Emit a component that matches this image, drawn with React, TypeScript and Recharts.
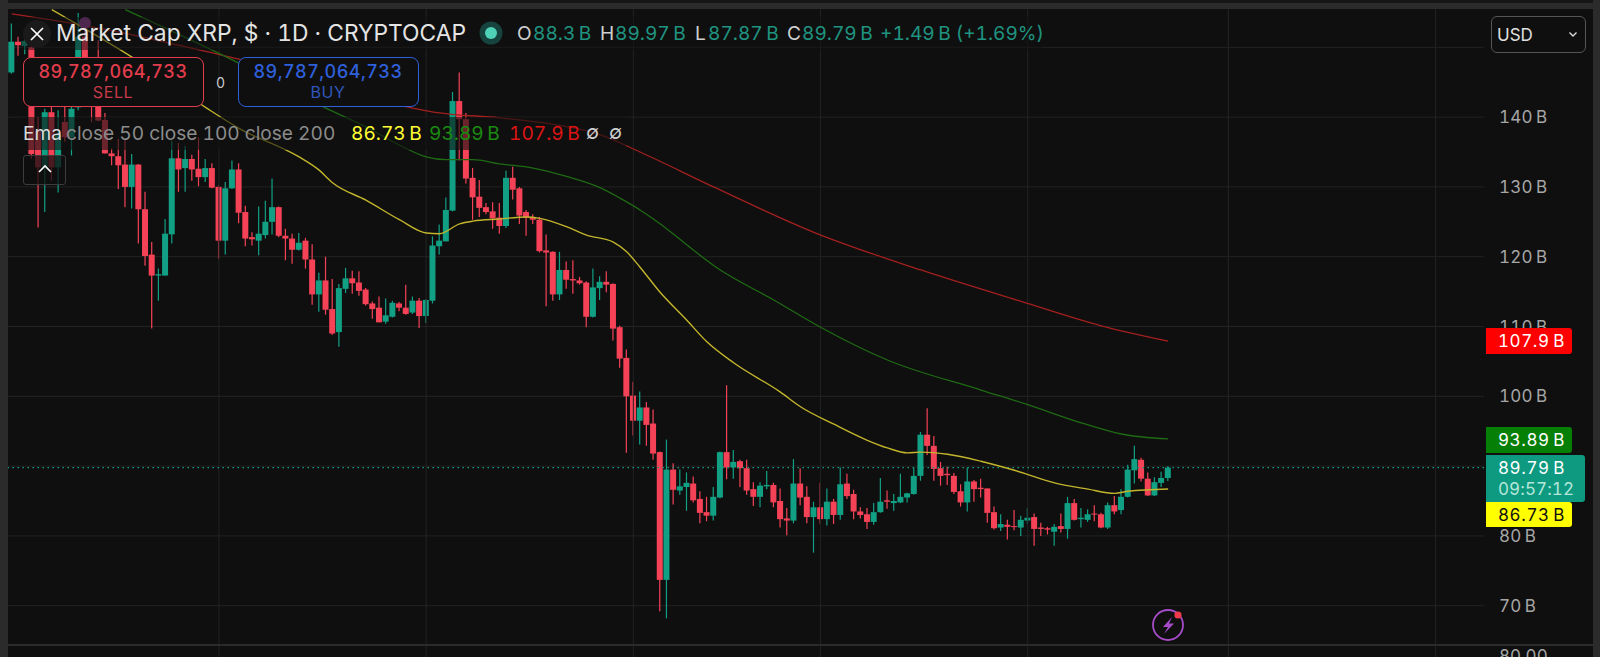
import React from "react";
import { ComposedChart, Bar, Line, XAxis, YAxis, CartesianGrid, ReferenceLine } from "recharts";

// [open, high, low, close] in billions of dollars, one per trading day
const candlesSegmentA: number[][] = [
  [146.4,153.4,146.2,150.8],[150.8,151.5,148.8,150.3],[150.2,151.8,149,150.9],[150,151,134,134.7],[138,140,124.2,132.8],
  [132.8,141.2,126.4,140.7],[140.7,141.5,130.9,132.8],[132.8,141,129.2,137.5],[139.3,141.5,136.5,137.1],[137.1,141.5,134.5,141.2],
  [141.4,154.9,141,151.5],[151.5,153.5,144,144.5],[145,147,139.3,141.5],[143,151,139.4,139.5],[139.6,140.6,134.8,134.8],
  [134.8,135.5,133.1,134.4],[134.4,136.9,129.7,133.1],[133.2,136.9,127.1,130],[130,134.7,126.9,133.2],[133.2,133.3,121.9,126.8],
  [126.8,129.3,118.7,120.1],[120.3,122.1,109.7,117.3],[117.3,118.3,113.7,117.5],[117.3,125.4,117.3,123.3],[123.2,136.6,121.9,134.1],
  [134.1,136.3,129.3,132.5],[132.7,135.9,129.3,134],[134,134.6,130.9,132.5],[132.6,137.1,130.1,131.4],[131.4,134,130.7,132.7],
  [132.7,133.4,129.8,129.9],[130,130.2,119.7,122.3],[122.3,130.7,120.3,129.8],[129.8,133.8,129.7,132.5],[132.5,133.4,124.8,126.3],
  [126.4,127.3,121.5,122.6],[122.8,123.5,121.6,122.5],[122.3,127.2,120.2,123.3],[123.1,128,122.6,125],[125,131.2,123.2,127.1],
  [127.1,127.2,122.8,123],[123,124,119.5,122.6],[122.6,123.3,119,121],[121,123.4,120.9,122],
];
const candlesSegmentB: number[][] = [
  [122.3,122.7,118.3,119.6],[119.6,121.8,113.1,114.6],[114.6,117.7,112.1,116.6],[116.6,120,111.7,112.4],[112.5,116.8,108.8,109],
  [109.2,116.1,107.1,115.5],[115.4,118.4,114.8,116.9],[116.9,118,114.7,116.2],[116.3,117.9,114.4,115.1],[115.3,115.5,113,113.2],
  [113.3,113.6,111.1,112.5],[112.7,114.3,110.6,110.6],[110.7,114,110.4,111.6],[111.4,113.7,111.3,113.4],[113.3,113.5,112.2,112.7],
  [112.7,116,111.7,111.8],[112,114.3,111.8,113.7],[113.7,114.1,109.8,111.5],[111.5,113.9,110.5,113.8],[113.7,122.9,113.3,121.6],
  [121.5,124.6,120.3,122.3],[122.2,128.5,122.2,126.7],[126.6,143.6,126.5,142.3],[142.3,146.4,133.8,139.7],[139.7,140.6,130.5,131.2],
  [131.3,132.7,125.3,128.5],[128.6,131,125.7,127],[127.1,127.7,126.1,126.4],[126.5,127.8,124,125.5],[125.6,127.7,123.3,124.4],
  [124.4,132.3,124.1,131.3],[131.3,132.9,128.2,129.6],[129.8,130,124.7,125.9],[126.4,126.7,123,125.6],[125.7,126.1,124.7,125.3],
  [125.3,125.7,120.6,120.8],[120.9,123.2,112.9,120.6],[120.7,120.8,113.7,114.6],[114.6,120.7,113.8,118.1],[118.1,119.3,115.4,116.7],
  [116.8,119.5,114.7,116.6],[116.6,117.1,116,116.2],[116.3,116.5,109.9,111.4],[111.4,118.3,111.3,115.6],[115.5,117.2,113.8,116.4],
  [116.4,117.9,114.9,116],[116.1,116.2,108,109.7],
];
const candlesSegmentC: number[][] = [
  [109.9,110.1,104.1,105.4],[105.5,106.7,91.9,100],[100.1,102.1,94.4,96.5],[96.5,100.7,93.1,98.4],[98.4,99.2,92.9,95.9],
  [96.1,98.1,90.9,91.8],[92,92.1,69.2,73.7],[73.7,93.8,68.2,89.5],[89.5,90.4,84.5,86.6],[86.5,89.5,85.9,87.1],
  [87,89.1,83.6,87.6],[87.5,88.5,84.8,85.1],[85.3,86.4,81.8,83.3],[83.4,85.6,82.1,82.9],[82.9,87,82.2,85.6],
  [85.5,92.1,85.4,92],[92,101.6,88.1,89.8],[89.8,92.3,88.2,90.6],[90.7,90.9,87,89.7],[89.7,90.9,85.9,86.5],
  [86.7,87.7,84.3,85.6],[85.6,87.7,84.1,87.2],[87.1,89.3,86.7,87.3],[87.3,87.6,84.1,84.8],[85,86.8,81.2,82.4],
  [82.5,84,80.1,82.2],[82.2,91,81.8,87.5],[87.5,89.7,84.4,85.5],[85.6,87.1,81.8,82.7],[82.7,84.9,77.6,84.1],
  [84.1,87.6,81.7,82.4],[82.4,86.8,81.5,84.9],[84.9,85.3,81.7,83],[83,89.8,82.3,87.4],[87.5,88.9,85.3,85.7],
  [86,86.6,82.4,83.5],[83.5,84.1,82.5,83],[83.1,84,81,82],[82,84.7,81.6,83.4],[83.4,88.3,83.3,84.9],
  [85.1,86.5,83.9,84.9],
];
const candlesSegmentD: number[][] = [
  [84.7,86,83.6,85],[84.8,88.9,84.7,85.6],[85.5,86.2,84.8,86.1],[86,89.8,85.9,88.6],[88.6,94.9,87.9,94.5],
  [94.5,98.3,91.6,92.9],[92.9,94.3,87.9,89.6],[89.7,90.6,87.2,88.6],[88.9,89.9,87.3,88.7],[88.6,89,86,86.3],
  [86.4,87.4,84.2,84.8],[84.8,89.8,83.5,87.8],[87.8,88,84.9,86.7],[86.9,88.2,85.5,86.7],[86.8,86.8,81.9,83.3],
  [83.4,84.2,80.9,81.1],[81.2,83.1,80.7,81.7],[81.6,82.3,79.5,81.3],[81.4,83.7,80.8,81.3],[81.2,82.9,80,82.3],
  [82.2,84,81.7,82.6],[82.7,83.2,78.6,81],[81.2,81.9,80,81],[81.1,81.3,80.2,80.9],[80.6,81.7,78.6,81.3],
  [81.4,83.2,80.5,81],[81,85.6,79.6,84.7],[84.7,85.3,82.2,82.3],[82.4,84,81.2,82.6],[82.3,83.8,82,83.1],
  [83.2,84.4,82.1,83.1],[83.1,83.3,81.1,81.2],[81.2,84.8,81,84.4],[84.4,85.7,83.1,83.5],[83.7,86.7,83.1,85.6],
  [85.6,90.2,85.5,89.5],[89.4,92.9,87.5,91],[90.9,91.2,87.8,88.2],[88.2,89.1,85.7,85.8],[85.8,88.4,85.7,87.7],
  [87.6,89.2,87,88.3],[88.3,89.97,87.87,89.79],
];

// [day index, value] readings of each moving average
const ema50Readings: number[][] = [
  [6,155.4],[10,153.2],[18,148.6],[29,141.4],[34,138.4],[43,134.3],[46,132.4],[48,130.6],[53,128.1],[58,125.3],[62,123.4],[64,123.3],
  [67,124.7],[69,125.1],[73,125.4],[77,125.7],[79,125.5],[83,124.3],[86,123.1],[90,122.1],[92,120.7],[94,118.5],[97,114.9],[101,110.9],
  [104,107.8],[108,104.8],[115,100.6],[118,98.5],[123,96],[128,93.7],[131,92.6],[134,91.9],[136,92],[140,91.7],[145,90.7],[150,89.4],
  [156,87.6],[161,86.7],[165,86.1],[167,86.4],[173,86.73],
];
const ema100Readings: number[][] = [
  [17,155.4],[33,148.2],[47,141.3],[53,138.6],[58,136],[62,134.3],[65,133.9],[69,133.9],[73,133.3],[78,132.7],[83,131.5],[88,129.9],
  [91,128.4],[94,126.7],[96,125.4],[106,118.1],[114,113.8],[121,109.9],[131,105.2],[145,100.9],[152,98.8],
  [160,96.2],[166,94.6],[173,93.89],
];
const ema200Readings: number[][] = [
  [0,154.8],[8,153.6],[18,151.8],[25,150.3],[34,148.3],[60,141.3],[64,140.6],[73,139.9],[82,138.8],[88,137.5],[94,135],[105,130],
  [120,123.5],[136,118.1],[151,113.6],[163,110.1],[173,107.9],
];

const priceTicks = [70, 80, 90, 100, 110, 120, 130, 140];
const gridPrices = [70, 80, 90, 100, 110, 120, 130, 140, 150];
const monthStartDays = [31, 62, 93, 121, 152, 182, 213];
const lastClose = 89.79;

const UP = "#12a085";
const DOWN = "#f54257";
const BG = "#0f0f0f";
const GRID = "#232323";
const FRAME = "#2b2b2b";
const FONT = "Inter, 'Noto Sans', sans-serif";

const allCandles = [...candlesSegmentA, ...candlesSegmentB, ...candlesSegmentC, ...candlesSegmentD];
const lookup = (list: number[][]) => new Map(list.map(([i, v]) => [i, v]));
const e50 = lookup(ema50Readings);
const e100 = lookup(ema100Readings);
const e200 = lookup(ema200Readings);
const rows = allCandles.map(([open, high, low, close], i) => ({
  i, open, high, low, close,
  range: [low, high],
  ema50: e50.get(i) ?? null,
  ema100: e100.get(i) ?? null,
  ema200: e200.get(i) ?? null,
}));

function Candle(props: any) {
  const { x, y, width, height, payload } = props;
  const { open, high, low, close } = payload;
  const unit = height / (high - low || 1);
  const top = y + (high - Math.max(open, close)) * unit;
  const bodyH = Math.max(Math.abs(open - close) * unit, 1);
  const color = close >= open ? UP : DOWN;
  const cx = x + width / 2;
  return (
    <g>
      <line x1={cx} x2={cx} y1={y} y2={y + height} stroke={color} strokeWidth={1.2} />
      <rect x={x} y={top} width={width} height={bodyH} fill={color} />
    </g>
  );
}

const abs = (style: React.CSSProperties): React.CSSProperties => ({ position: "absolute", whiteSpace: "nowrap", ...style });
const NB = "\u202f";

function Tag({ top, height, width, bg, color, label, sub }: any) {
  return (
    <div style={abs({ left: 1486, top, width, height, background: bg, borderRadius: "0 3px 3px 0" })}>
      <div style={abs({ left: 12, top: 3, color, fontSize: 17, fontFamily: FONT, letterSpacing: 0.6, lineHeight: "20px" })}>{label}</div>
      {sub ? <div style={abs({ left: 12, top: 24, color: "#b5e6da", fontSize: 17, fontFamily: FONT, letterSpacing: 0.1, lineHeight: "20px" })}>{sub}</div> : null}
    </div>
  );
}

function OrderBox({ left, color, subColor, word }: any) {
  return (
    <div style={abs({ left, top: 57, width: 181, height: 50, boxSizing: "border-box", border: `1.5px solid ${color}`, borderRadius: 8, background: BG, textAlign: "center", fontFamily: FONT })}>
      <div style={{ color, fontSize: 18, fontWeight: 500, letterSpacing: 0.45, lineHeight: "22px", marginTop: 3 }}>89,787,064,733</div>
      <div style={{ color: subColor, fontSize: 16, letterSpacing: 0.6, lineHeight: "18px" }}>{word}</div>
    </div>
  );
}

export default function App() {
  const teal = "#1f9480";
  const lab: React.CSSProperties = { fontFamily: FONT, fontSize: 19.1, lineHeight: "24px", top: 21 };
  return (
    <div style={{ position: "fixed", left: 0, top: 0, width: 1600, height: 657, overflow: "hidden", background: BG, fontVariantNumeric: "tabular-nums" }}>
      <ComposedChart width={1600} height={657} data={rows} margin={{ top: 9, right: 0, bottom: 0, left: 8 }}>
        <CartesianGrid stroke={GRID} horizontalValues={gridPrices} vertical={false} />
        <XAxis dataKey="i" type="number" domain={[-0.549, 220.25]} hide />
        <YAxis
          orientation="right"
          width={116}
          domain={[62.65, 155.49]}
          ticks={priceTicks}
          axisLine={false}
          tickLine={false}
          tickMargin={9}
          tick={{ fill: "#a6a6a6", fontSize: 17, fontFamily: FONT, textAnchor: "start", letterSpacing: 0.2 }}
          tickFormatter={(v: number) => `${v}${NB}B`}
        />
        {monthStartDays.map((d) => (
          <ReferenceLine key={d} x={d} stroke={GRID} />
        ))}
        <ReferenceLine y={lastClose} stroke={UP} strokeDasharray="1.5 3.5" strokeWidth={1.2} />
        <Bar dataKey="range" barSize={6} isAnimationActive={false} shape={<Candle />} />
        <Line type="monotone" dataKey="ema200" stroke="#a3201f" strokeWidth={1.3} dot={false} connectNulls isAnimationActive={false} />
        <Line type="monotone" dataKey="ema100" stroke="#1f6a14" strokeWidth={1.3} dot={false} connectNulls isAnimationActive={false} />
        <Line type="monotone" dataKey="ema50" stroke="#c2b52c" strokeWidth={1.4} dot={false} connectNulls isAnimationActive={false} />
      </ComposedChart>

      {/* frame */}
      <div style={abs({ left: 0, top: 0, width: 1600, height: 3, background: "#161616" })} />
      <div style={abs({ left: 0, top: 3, width: 1600, height: 6, background: FRAME })} />
      <div style={abs({ left: 0, top: 0, width: 8, height: 657, background: FRAME })} />
      <div style={abs({ left: 1593, top: 0, width: 7, height: 657, background: FRAME })} />
      <div style={abs({ left: 8, top: 644, width: 1585, height: 1.5, background: FRAME })} />
      <div style={abs({ left: 1499, top: 643, height: 14, overflow: "hidden", width: 70, color: "#a6a6a6", fontFamily: FONT, fontSize: 17 })}>
        <div style={{ marginTop: 2, lineHeight: "22px" }}>80.00</div>
      </div>

      {/* legend */}
      <div style={abs({ left: 85 - 6, top: 23 - 6, width: 12, height: 12, borderRadius: 6, background: "#8a3f8c" })} />
      <div style={abs({ left: 22, top: 17, width: 1020, height: 33, background: "rgba(15,15,15,0.5)" })} />
      <svg style={abs({ left: 22, top: 19 })} width={30} height={30}>
        <circle cx={15} cy={15} r={14} fill="#1a1a1a" />
        <path d="M9 9 L21 21 M21 9 L9 21" stroke="#fff" strokeWidth={1.7} />
      </svg>
      <div style={abs({ left: 56, top: 19, color: "#e4e4e4", fontFamily: FONT, fontSize: 22.8, lineHeight: "28px", letterSpacing: 0 })}>Market Cap XRP, $ · 1D · CRYPTOCAP</div>
      <svg style={abs({ left: 479, top: 21 })} width={24} height={24}>
        <circle cx={12} cy={12} r={11.5} fill="#16433e" />
        <circle cx={12} cy={12} r={6} fill="#4fd1b8" />
      </svg>
      <div style={abs({ ...lab, left: 517, color: "#cfcfcf" })}>O</div>
      <div style={abs({ ...lab, left: 533, color: teal })}>88.3{NB}B</div>
      <div style={abs({ ...lab, left: 600, color: "#cfcfcf" })}>H</div>
      <div style={abs({ ...lab, left: 615, color: teal })}>89.97{NB}B</div>
      <div style={abs({ ...lab, left: 695, color: "#cfcfcf" })}>L</div>
      <div style={abs({ ...lab, left: 708, color: teal })}>87.87{NB}B</div>
      <div style={abs({ ...lab, left: 787, color: "#cfcfcf" })}>C</div>
      <div style={abs({ ...lab, left: 802, color: teal })}>89.79{NB}B</div>
      <div style={abs({ ...lab, left: 880, color: teal })}>+1.49{NB}B (+1.69%)</div>

      <OrderBox left={22.5} color="#e23d4d" subColor="#c63a49" word="SELL" />
      <OrderBox left={237.5} color="#2f60dc" subColor="#2f56bd" word="BUY" />
      <div style={abs({ left: 216, top: 74, color: "#c9c9c9", fontFamily: FONT, fontSize: 14, lineHeight: "18px" })}>0</div>

      <div style={abs({ left: 22, top: 117, width: 604, height: 33, background: "rgba(15,15,15,0.6)" })} />
      <div style={abs({ ...lab, top: 121, left: 23, color: "#dcdcdc" })}>Ema</div>
      <div style={abs({ ...lab, top: 121, left: 66, color: "#8c8c8c" })}>close 50 close 100 close 200</div>
      <div style={abs({ ...lab, top: 121, left: 351, color: "#ffff33" })}>86.73{NB}B</div>
      <div style={abs({ ...lab, top: 121, left: 429, color: "#1a8a10" })}>93.89{NB}B</div>
      <div style={abs({ ...lab, top: 121, left: 509, color: "#dd1414" })}>107.9{NB}B</div>
      <div style={abs({ ...lab, top: 121, left: 586, color: "#cfcfcf", fontSize: 19 })}>∅</div>
      <div style={abs({ ...lab, top: 121, left: 609, color: "#cfcfcf", fontSize: 19 })}>∅</div>

      <div style={abs({ left: 22.7, top: 155, width: 43, height: 30, boxSizing: "border-box", border: "1px solid #3c3c3c", borderRadius: 3, background: "rgba(15,15,15,0.75)" })}>
        <svg width={41} height={28}>
          <path d="M15 16 L21 10 L27 16" fill="none" stroke="#fff" strokeWidth={1.6} />
        </svg>
      </div>

      {/* currency selector */}
      <div style={abs({ left: 1491, top: 16, width: 95, height: 37, boxSizing: "border-box", border: "1px solid #555", borderRadius: 6, background: BG })}>
        <div style={abs({ left: 5, top: 7, color: "#e0e0e0", fontFamily: FONT, fontSize: 17, lineHeight: "22px" })}>USD</div>
        <svg style={abs({ left: 76, top: 14 })} width={10} height={8}>
          <path d="M1.5 1.5 L5 5 L8.5 1.5" fill="none" stroke="#ddd" strokeWidth={1.4} />
        </svg>
      </div>

      {/* lightning badge */}
      <svg style={abs({ left: 1150, top: 607 })} width={36} height={36}>
        <circle cx={18} cy={18} r={15} fill="none" stroke="#a64cc8" strokeWidth={1.8} />
        <path d="M22 10 L13 20 H18 L14 27 L24 16.5 H19 Z" fill="#a64cc8" />
        <circle cx={28} cy={8} r={3.6} fill="#ee3a4a" />
      </svg>

      {/* price tags */}
      <Tag top={328} height={26} width={86} bg="#ff0000" color="#ffffff" label={`107.9${NB}B`} />
      <Tag top={427} height={25.5} width={86} bg="#067f06" color="#ffffff" label={`93.89${NB}B`} />
      <Tag top={455} height={46.7} width={99} bg="#0e9a80" color="#ffffff" label={`89.79${NB}B`} sub="09:57:12" />
      <Tag top={501.7} height={25.5} width={86} bg="#ffff00" color="#111111" label={`86.73${NB}B`} />
    </div>
  );
}
